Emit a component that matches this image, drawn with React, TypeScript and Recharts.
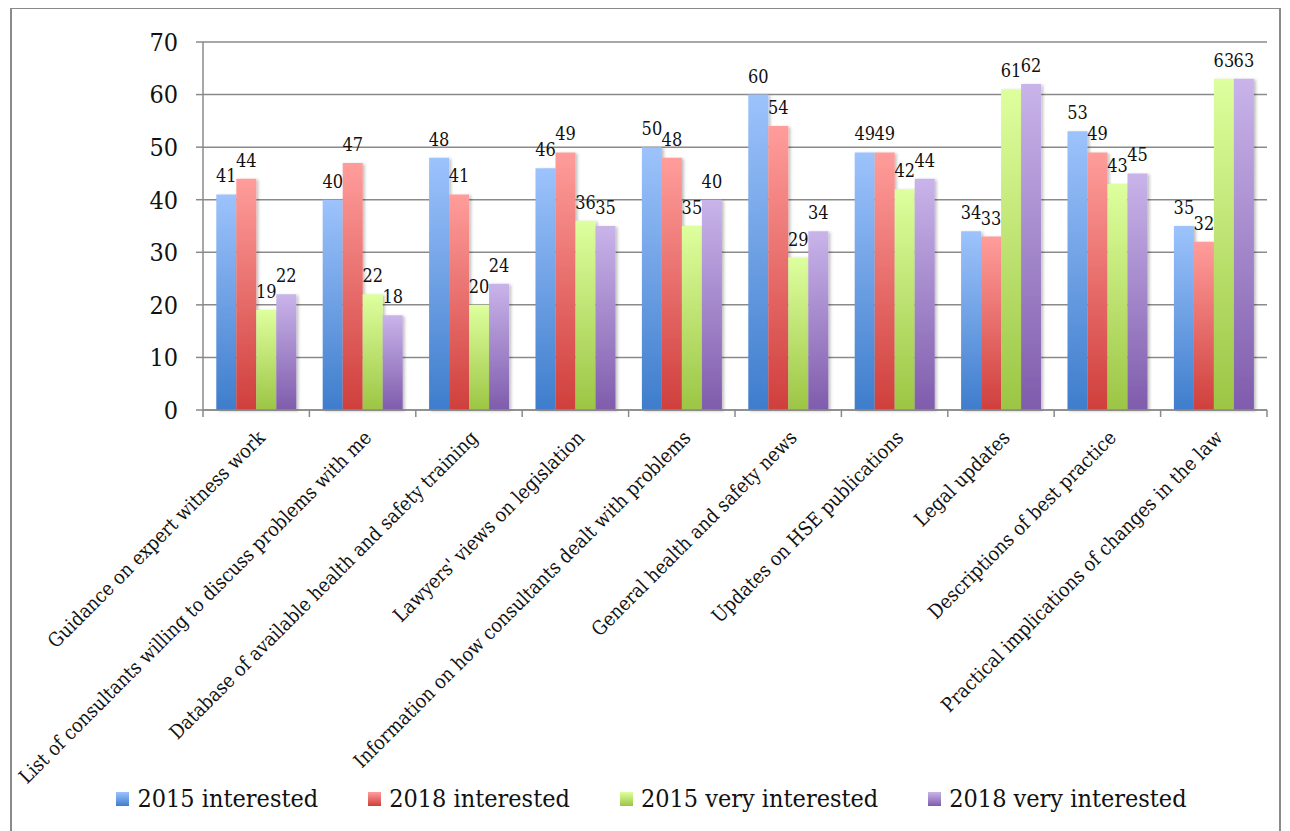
import React from 'react';
import { BarChart, Bar, XAxis, YAxis, CartesianGrid, Legend, LabelList } from 'recharts';

const categories = [
  'Guidance on expert witness work',
  'List of consultants willing to discuss problems with me',
  'Database of available health and safety training',
  "Lawyers' views on legislation",
  'Information on how consultants dealt with problems',
  'General health and safety news',
  'Updates on HSE publications',
  'Legal updates',
  'Descriptions of best practice',
  'Practical implications of changes in the law',
];
const interested2015 = [41, 40, 48, 46, 50, 60, 49, 34, 53, 35];
const interested2018 = [44, 47, 41, 49, 48, 54, 49, 33, 49, 32];
const veryInterested2015 = [19, 22, 20, 36, 35, 29, 42, 61, 43, 63];
const veryInterested2018 = [22, 18, 24, 35, 40, 34, 44, 62, 45, 63];
const yTicks = [0, 10, 20, 30, 40, 50, 60, 70];

const seriesNames = ['2015 interested', '2018 interested', '2015 very interested', '2018 very interested'];
const seriesKeys = ['i2015', 'i2018', 'v2015', 'v2018'];
const gradTop = ['#9DC3FC', '#FF9D9B', '#DEFF9E', '#C9B4EA'];
const gradBottom = ['#3E7DCC', '#CF3F3C', '#9CC544', '#7F5CAC'];

const data = categories.map((c, i) => ({
  name: c,
  i2015: interested2015[i],
  i2018: interested2018[i],
  v2015: veryInterested2015[i],
  v2018: veryInterested2018[i],
}));

const FONT = "'DejaVu Serif Condensed', 'DejaVu Serif', serif";
const GRAY = '#8a8a8a';
const HALF_BAND = 53.2;

const CatTick = (props: any) => {
  const { x, y, payload, index } = props;
  const ax = x + 10;
  const ay = y + 29;
  return (
    <g>
      <line x1={x - HALF_BAND} y1={y} x2={x - HALF_BAND} y2={y + 7} stroke={GRAY} strokeWidth={1.5} />
      {index === categories.length - 1 && (
        <line x1={x + HALF_BAND} y1={y} x2={x + HALF_BAND} y2={y + 7} stroke={GRAY} strokeWidth={1.5} />
      )}
      <text
        x={ax}
        y={ay}
        textAnchor="end"
        fontFamily={FONT}
        fontSize={19.5}
        fill="#111"
        transform={`rotate(-45, ${ax}, ${ay})`}
      >
        {payload.value}
      </text>
    </g>
  );
};

const LegendContent = () => (
  <div style={{ display: 'flex', justifyContent: 'center', gap: 50, paddingLeft: 24, fontFamily: FONT, fontSize: 25, color: '#111', lineHeight: '30px' }}>
    {seriesNames.map((n, i) => (
      <div key={n} style={{ display: 'flex', alignItems: 'center' }}>
        <span
          style={{
            display: 'inline-block',
            width: 13,
            height: 14,
            marginRight: 8,
            background: `linear-gradient(${gradTop[i]}, ${gradBottom[i]})`,
          }}
        />
        <span>{n}</span>
      </div>
    ))}
  </div>
);

export default function App() {
  return (
    <div
      style={{
        marginLeft: 2,
        marginTop: -1,
        width: 1271,
        height: 840,
        border: `2px solid ${GRAY}`,
        boxSizing: 'border-box',
        background: '#fff',
        position: 'relative',
      }}
    >
      <BarChart
        width={1266}
        height={830}
        data={data}
        margin={{ top: 33, right: 11, left: 0, bottom: 0 }}
        barCategoryGap="12.5%"
        barGap={0}
      >
        <defs>
          {gradTop.map((c, i) => (
            <linearGradient key={i} id={`g${i}`} x1="0" y1="0" x2="0" y2="1">
              <stop offset="0%" stopColor={c} />
              <stop offset="100%" stopColor={gradBottom[i]} />
            </linearGradient>
          ))}
          <filter id="shadow" x="-20%" y="-5%" width="150%" height="110%">
            <feDropShadow dx="2" dy="1" stdDeviation="1.5" floodColor="#000" floodOpacity="0.25" />
          </filter>
        </defs>
        <CartesianGrid vertical={false} stroke={GRAY} strokeWidth={1.5} />
        <XAxis
          dataKey="name"
          interval={0}
          height={389}
          tickSize={0}
          tickMargin={0}
          tickLine={false}
          axisLine={{ stroke: GRAY, strokeWidth: 1.5 }}
          tick={<CatTick />}
        />
        <YAxis
          domain={[0, 70]}
          ticks={yTicks}
          width={191}
          tickSize={7}
          tickMargin={18}
          axisLine={{ stroke: GRAY, strokeWidth: 1.5 }}
          tickLine={{ stroke: GRAY, strokeWidth: 1.5 }}
          tick={{ fontFamily: FONT, fontSize: 25, fill: '#111' }}
        />
        <Legend
          verticalAlign="bottom"
          height={40}
          wrapperStyle={{ bottom: 15 }}
          content={<LegendContent />}
        />
        {seriesKeys.map((k, i) => (
          <Bar key={k} dataKey={k} name={seriesNames[i]} fill={`url(#g${i})`} isAnimationActive={false} style={{ filter: 'url(#shadow)' }}>
            <LabelList dataKey={k} position="top" offset={12} style={{ fontFamily: FONT, fontSize: 18, fill: '#111' }} />
          </Bar>
        ))}
      </BarChart>
    </div>
  );
}
